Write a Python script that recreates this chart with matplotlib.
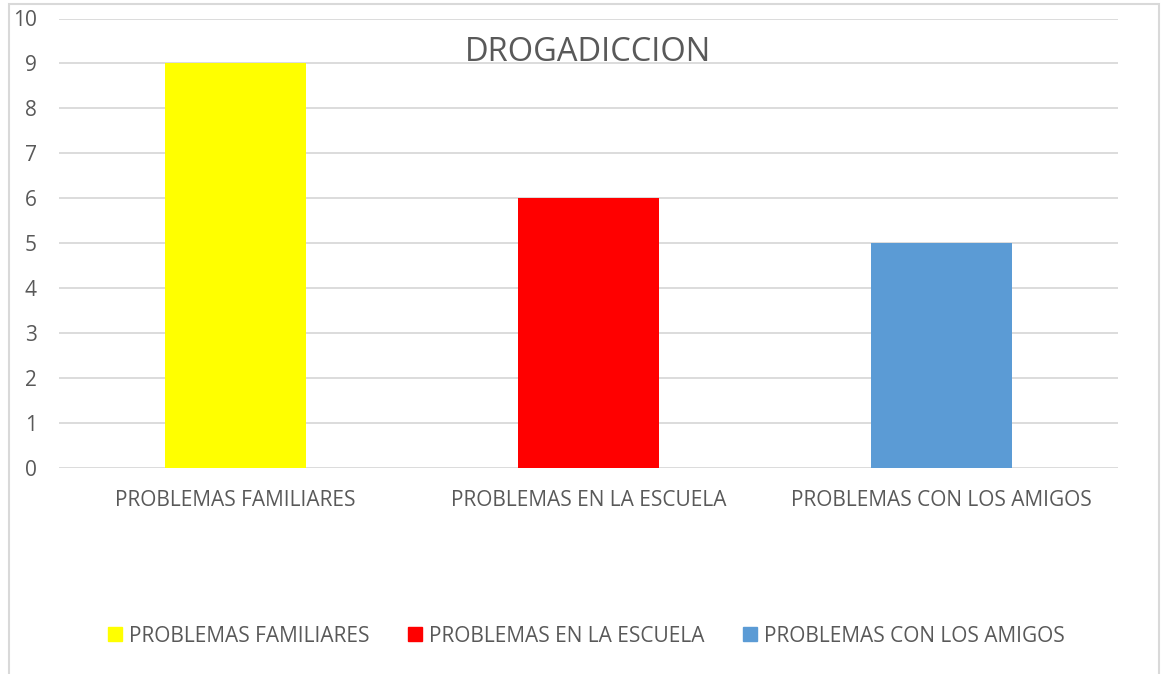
import matplotlib.pyplot as plt
from matplotlib.patches import Rectangle

categorias = ["PROBLEMAS FAMILIARES", "PROBLEMAS EN LA ESCUELA", "PROBLEMAS CON LOS AMIGOS"]
valores = [9, 6, 5]
colores = ["#FFFF00", "#FF0000", "#5B9BD5"]
titulo = "DROGADICCION"

plt.rcParams['font.family'] = ['Open Sans', 'DejaVu Sans']
gris = "#595959"

fig = plt.figure(figsize=(11.63, 6.74), dpi=100)
W, H = 1163, 674
ax = fig.add_axes([59 / W, 1 - 468 / H, (1118 - 59) / W, (468 - 18.5) / H])

bars = ax.bar(range(len(categorias)), valores, width=0.4, color=colores, zorder=3)

ax.set_xlim(-0.5, 2.5)
ax.set_ylim(0, 10)
ax.set_yticks(range(0, 11))
ax.set_xticks(range(len(categorias)))
ax.set_xticklabels(categorias)
ax.yaxis.grid(True, color="#d9d9d9", linewidth=1.3, zorder=0)
ax.tick_params(axis="both", length=0, labelsize=15, labelcolor=gris)
ax.tick_params(axis="y", pad=16)
ax.tick_params(axis="x", pad=16)
for s in ax.spines.values():
    s.set_visible(False)

ax.set_title(titulo, fontsize=23.5, color=gris, y=0.888)

handles = [Rectangle((0, 0), 1, 1, color=c) for c in colores]
fig.legend(handles, categorias, loc="center", bbox_to_anchor=(586.5 / W, 1 - 636 / H),
           ncol=3, frameon=False, fontsize=15, labelcolor=gris,
           handlelength=0.65, handleheight=0.65, handletextpad=0.35, columnspacing=1.85)

fig.patches.append(Rectangle((9 / W, -0.01), (1159 - 9) / W, 1 - 4 / H + 0.01,
                             transform=fig.transFigure, fill=False,
                             edgecolor="#d9d9d9", linewidth=1.5))

fig.savefig("out.png", dpi=100)
